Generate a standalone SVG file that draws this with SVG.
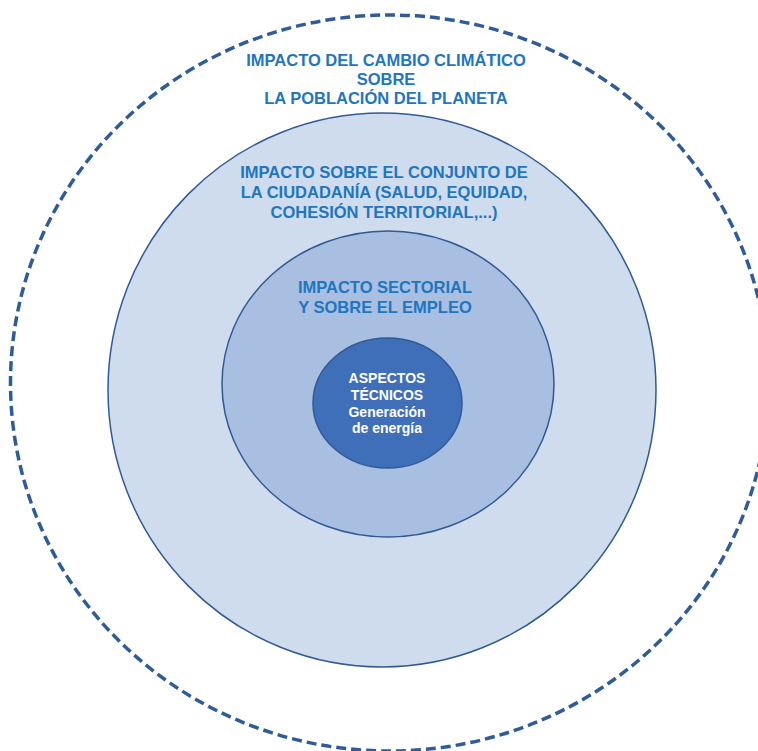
<svg xmlns="http://www.w3.org/2000/svg" width="758" height="751" viewBox="0 0 758 751">
<style>
.lbl{font-family:"Liberation Sans",Arial,sans-serif;font-weight:bold;font-size:16.5px;fill:#1F76BF;text-anchor:middle}
.w{font-family:"Liberation Sans",Arial,sans-serif;font-weight:bold;font-size:14px;fill:#FFFFFF;text-anchor:middle}
.ring{stroke:#2F5A96;stroke-width:1.5}
</style>
<rect width="758" height="751" fill="#FFFFFF"/>
<g id="outer">
<ellipse cx="389.5" cy="383" rx="379" ry="368" fill="none" stroke="#2E5C9B" stroke-width="3.5" stroke-dasharray="10 5"/>
<text class="lbl" x="386" y="66">IMPACTO DEL CAMBIO CLIMÁTICO</text>
<text class="lbl" x="386" y="85">SOBRE</text>
<text class="lbl" x="386" y="104">LA POBLACIÓN DEL PLANETA</text>
</g>
<g id="ciudadania">
<ellipse class="ring" cx="382" cy="390" rx="274" ry="277" fill="#CFDCED"/>
<text class="lbl" x="384" y="178">IMPACTO SOBRE EL CONJUNTO DE</text>
<text class="lbl" x="384" y="198">LA CIUDADANÍA (SALUD, EQUIDAD,</text>
<text class="lbl" x="384" y="218">COHESIÓN TERRITORIAL,...)</text>
</g>
<g id="sectorial">
<ellipse class="ring" cx="388" cy="384" rx="166" ry="153" fill="#A8BFE1"/>
<text class="lbl" x="385" y="293">IMPACTO SECTORIAL</text>
<text class="lbl" x="385" y="313">Y SOBRE EL EMPLEO</text>
</g>
<g id="tecnicos">
<ellipse class="ring" cx="387.5" cy="403" rx="74.5" ry="65" fill="#3F6FB8"/>
<text class="w" x="387" y="383">ASPECTOS</text>
<text class="w" x="387" y="400">TÉCNICOS</text>
<text class="w" x="387" y="417">Generación</text>
<text class="w" x="387" y="433">de energía</text>
</g>
<g id="connectors"/>
</svg>
